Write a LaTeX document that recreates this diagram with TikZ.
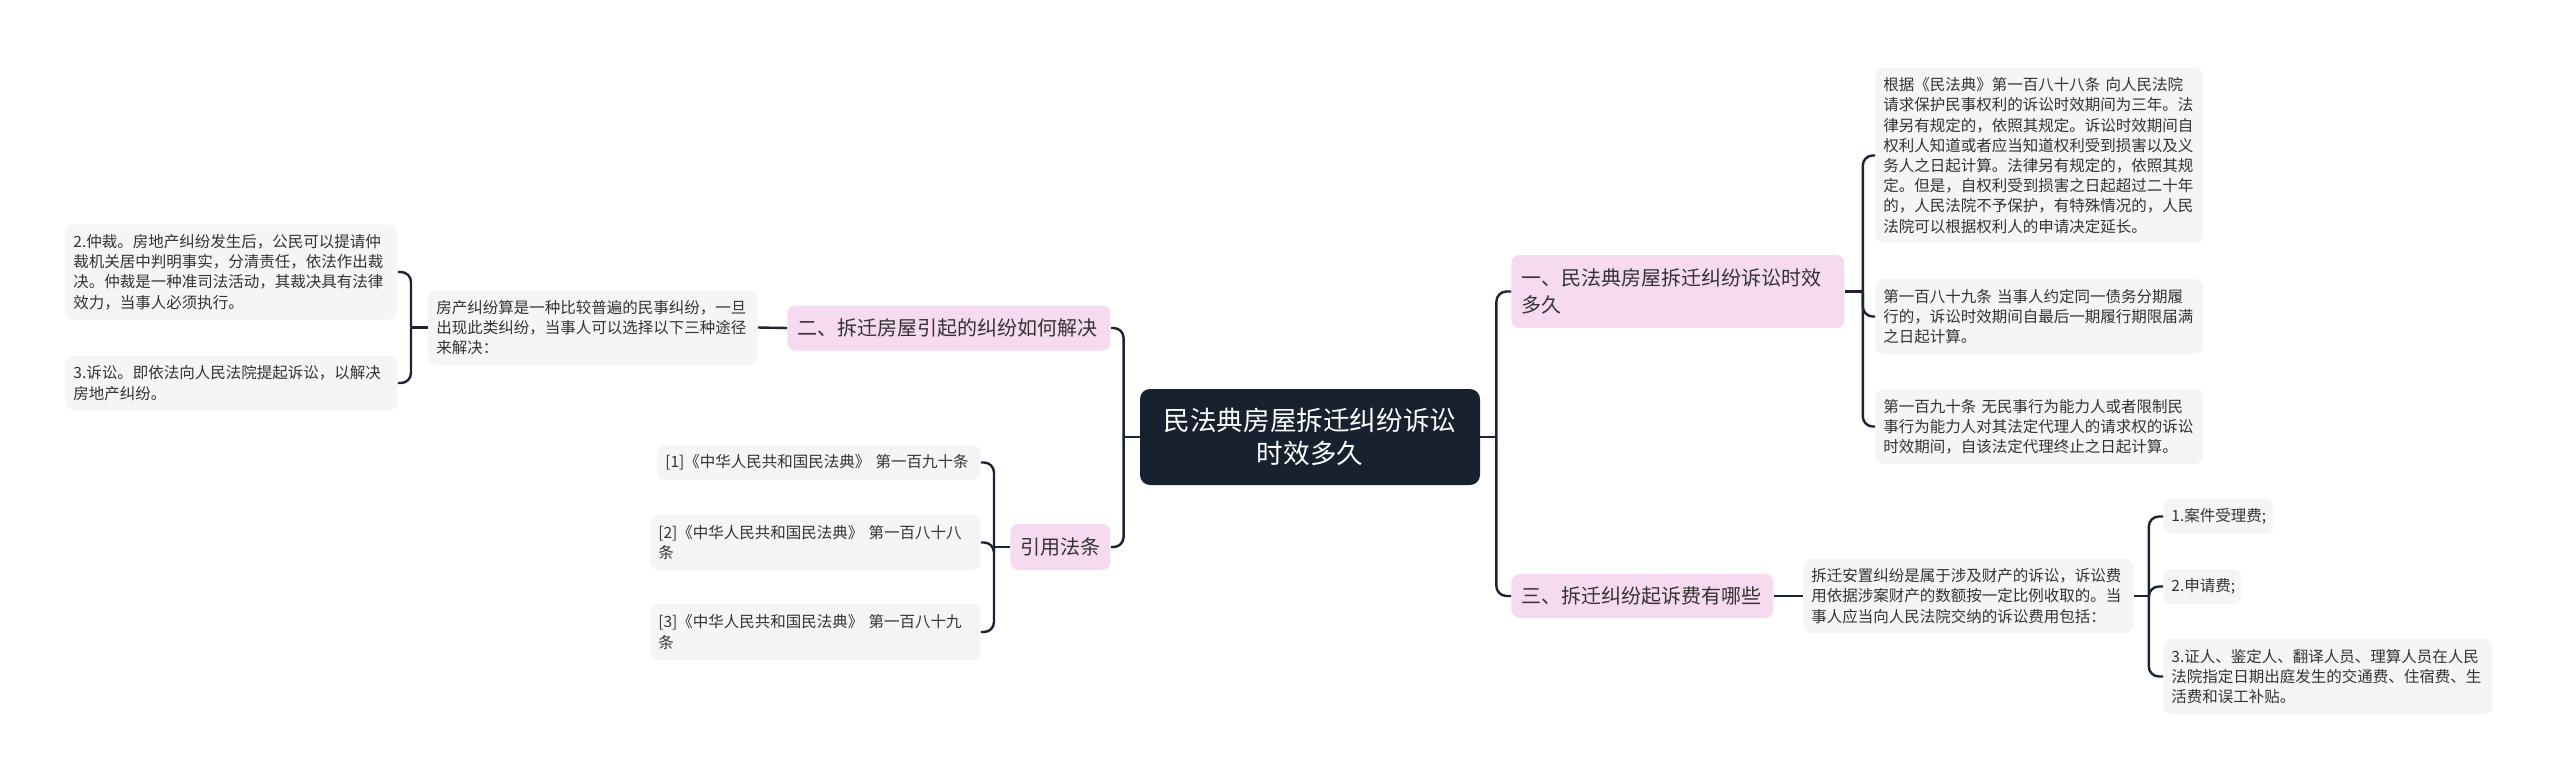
\documentclass[tikz,border=0pt]{standalone}
\usepackage{fontspec}
\setmainfont{Noto Sans CJK SC}

\definecolor{rootbg}{HTML}{172130}
\definecolor{topicbg}{HTML}{F5DAF0}
\definecolor{leafbg}{HTML}{F5F5F5}
\definecolor{inkgray}{HTML}{333333}
\definecolor{linkcol}{HTML}{1A2433}

\tikzset{
    root/.style={fill=rootbg, text=white, rounded corners=5pt, align=center,
        font=\fontsize{13.3}{16.5}\selectfont, text width=160pt,
        minimum height=48pt, inner xsep=5pt, inner ysep=1pt},
    topic/.style={fill=topicbg, text=inkgray, rounded corners=4pt, align=left,
        font=\fontsize{10}{13.5}\selectfont, inner xsep=5pt, inner ysep=1pt, anchor=west},
    leaf/.style={fill=leafbg, text=inkgray, rounded corners=4pt, align=left,
        font=\fontsize{7.75}{10.1}\selectfont, inner xsep=4pt, inner ysep=1pt, anchor=west},
    link/.style={draw=linkcol, line width=1.2pt, rounded corners=5pt},
}

\begin{document}
\begin{tikzpicture}[x=0.5pt, y=-0.5pt]
        \useasboundingbox (0,0) rectangle (2560,782);
        \node[root] (root) at (1310,437) {民法典房屋拆迁纠纷诉讼\\时效多久};

        % right side
        \node[topic, text width=156.5pt, minimum height=36.5pt] (t1) at (1511,291.5) {一、民法典房屋拆迁纠纷诉讼时效\\多久};
        \node[topic, text width=121pt, minimum height=22pt] (t3) at (1511,596) {三、拆迁纠纷起诉费有哪些};
        \node[leaf, text width=156pt, minimum height=87.5pt] (a1) at (1875,155.5) {根据《民法典》第一百八十八条 向人民法院\\请求保护民事权利的诉讼时效期间为三年。法\\律另有规定的，依照其规定。诉讼时效期间自\\权利人知道或者应当知道权利受到损害以及义\\务人之日起计算。法律另有规定的，依照其规\\定。但是，自权利受到损害之日起超过二十年\\的，人民法院不予保护，有特殊情况的，人民\\法院可以根据权利人的申请决定延长。};
        \node[leaf, text width=156pt, minimum height=37.5pt] (a2) at (1875,316.5) {第一百八十九条 当事人约定同一债务分期履\\行的，诉讼时效期间自最后一期履行期限届满\\之日起计算。};
        \node[leaf, text width=156pt, minimum height=37.5pt] (a3) at (1875,426.5) {第一百九十条 无民事行为能力人或者限制民\\事行为能力人对其法定代理人的请求权的诉讼\\时效期间，自该法定代理终止之日起计算。};
        \node[leaf, text width=157pt, minimum height=37pt] (c0) at (1803,596) {拆迁安置纠纷是属于涉及财产的诉讼，诉讼费\\用依据涉案财产的数额按一定比例收取的。当\\事人应当向人民法院交纳的诉讼费用包括：};
        \node[leaf, text width=47pt, minimum height=17.5pt] (c1) at (2163,516.5) {1.案件受理费;};
        \node[leaf, text width=31pt, minimum height=17.5pt] (c2) at (2163,586.5) {2.申请费;};
        \node[leaf, text width=156.5pt, minimum height=37.5pt] (c3) at (2163,676.5) {3.证人、鉴定人、翻译人员、理算人员在人民\\法院指定日期出庭发生的交通费、住宿费、生\\活费和误工补贴。};

        % left side
        \node[topic, text width=151.5pt, minimum height=22.5pt] (t2) at (787,328) {二、拆迁房屋引起的纠纷如何解决};
        \node[topic, text width=40pt, minimum height=23pt] (t4) at (1010,547) {引用法条};
        \node[leaf, text width=156.5pt, minimum height=37.5pt] (b0) at (428,327.5) {房产纠纷算是一种比较普遍的民事纠纷，一旦\\出现此类纠纷，当事人可以选择以下三种途径\\来解决：};
        \node[leaf, text width=158pt, minimum height=47.5pt] (b1) at (65,272) {2.仲裁。房地产纠纷发生后，公民可以提请仲\\裁机关居中判明事实，分清责任，依法作出裁\\决。仲裁是一种准司法活动，其裁决具有法律\\效力，当事人必须执行。};
        \node[leaf, text width=158pt, minimum height=27pt] (b2) at (65,383) {3.诉讼。即依法向人民法院提起诉讼，以解决\\房地产纠纷。};
        \node[leaf, text width=153.5pt, minimum height=17.5pt] (d1) at (657,462.5) {[1]《中华人民共和国民法典》 第一百九十条};
        \node[leaf, text width=157pt, minimum height=27.5pt] (d2) at (650,542.5) {[2]《中华人民共和国民法典》 第一百八十八\\条};
        \node[leaf, text width=157pt, minimum height=28pt] (d3) at (650,632) {[3]《中华人民共和国民法典》 第一百八十九\\条};

        % junctions
        \coordinate (jr) at ([xshift=8pt]root.east);
        \coordinate (jl) at ([xshift=-8pt]root.west);
        \coordinate (j1) at ([xshift=9pt]t1.east);
        \coordinate (j3) at ([xshift=7.5pt]c0.east);
        \coordinate (j2) at ([xshift=-8.5pt]b0.west);
        \coordinate (j4) at ([xshift=-8pt]t4.west);

        % connectors
        \draw[link] (root.east) -- (jr);
        \foreach \nd in {t1,t3} \draw[link] (jr) |- (\nd.west);
        \draw[link] (root.west) -- (jl);
        \foreach \nd in {t2,t4} \draw[link] (jl) |- (\nd.east);
        \draw[link] (t1.east) -- (j1);
        \foreach \nd in {a1,a2,a3} \draw[link] (j1) |- (\nd.west);
        \draw[link] (t3.east) -- (c0.west);
        \draw[link] (c0.east) -- (j3);
        \foreach \nd in {c1,c2,c3} \draw[link] (j3) |- (\nd.west);
        \draw[link] (t2.west) -- (b0.east);
        \draw[link] (b0.west) -- (j2);
        \foreach \nd in {b1,b2} \draw[link] (j2) |- (\nd.east);
        \draw[link] (t4.west) -- (j4);
        \foreach \nd in {d1,d2,d3} \draw[link] (j4) |- (\nd.east);
    \end{tikzpicture}
\end{document}
